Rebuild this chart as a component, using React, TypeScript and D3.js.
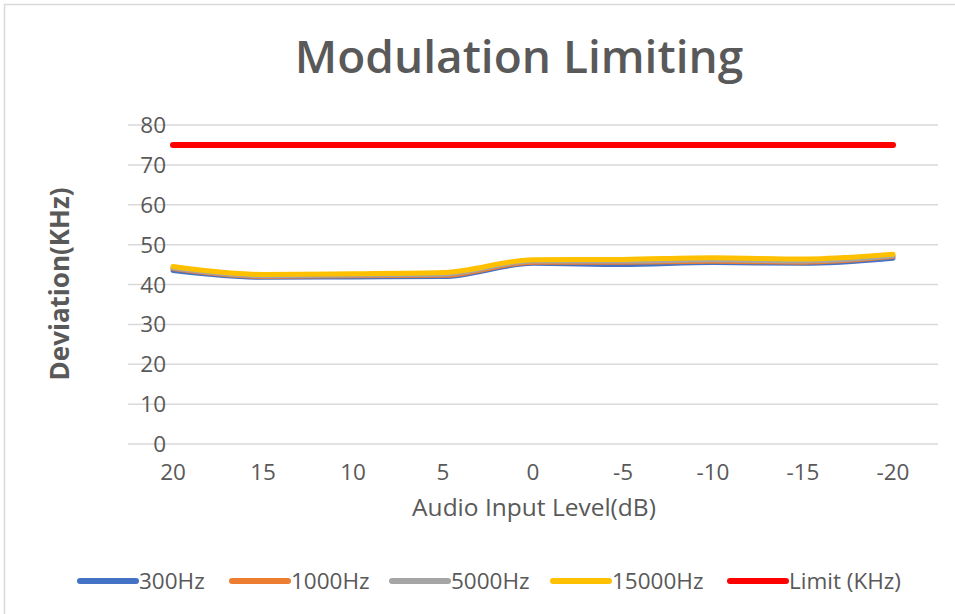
import React from "react";
import * as d3 from "d3";

const categories: string[] = ["20", "15", "10", "5", "0", "-5", "-10", "-15", "-20"];
const s300: number[] = [43.5, 41.8, 41.9, 42.0, 45.3, 45.0, 45.5, 45.3, 46.6];
const s1000: number[] = [44.0, 42.0, 42.2, 42.3, 45.6, 45.6, 45.8, 45.6, 47.0];
const s5000: number[] = [44.2, 42.2, 42.4, 42.6, 45.9, 45.9, 46.2, 45.9, 47.2];
const s15000: number[] = [44.5, 42.5, 42.7, 43.0, 46.2, 46.3, 46.7, 46.4, 47.6];
const sLimit: number[] = [75, 75, 75, 75, 75, 75, 75, 75, 75];
const yTicks: number[] = [0, 10, 20, 30, 40, 50, 60, 70, 80];

const seriesNames = ["300Hz", "1000Hz", "5000Hz", "15000Hz", "Limit (KHz)"];
const seriesValues = [s300, s1000, s5000, s15000, sLimit];
const seriesColors = ["#4472c4", "#ed7d31", "#a5a5a5", "#ffc000", "#ff0000"];

const W = 955;
const H = 614;
const FONT = "'Open Sans', 'Noto Sans', sans-serif";
const TXT = "#595959";

export default function App() {
  const x = d3.scalePoint<string>().domain(categories).range([128, 938]).padding(0.5);
  const y = d3.scaleLinear().domain([0, 80]).range([444, 125]);
  const line = d3
    .line<number>()
    .x((_, i) => x(categories[i]) as number)
    .y((d) => y(d))
    .curve(d3.curveMonotoneX);

  const legendX = [80, 232, 392, 553, 730];

  return (
    <svg
      width={W}
      height={H}
      style={{ position: "absolute", left: 0, top: 0, background: "#fff" }}
      fontFamily={FONT}
    >
      <rect x={4.5} y={4.5} width={W + 10} height={H + 10} fill="#fff" stroke="#d9d9d9" strokeWidth={1.5} />
      <text x={519} y={73} textAnchor="middle" fontSize={46} fontWeight={600} fill={TXT}>
        Modulation Limiting
      </text>
      {yTicks.map((t) => (
        <g key={t}>
          <line x1={128} x2={938} y1={y(t)} y2={y(t)} stroke="#d9d9d9" strokeWidth={1.5} />
          <text x={166} y={y(t)} dy="0.36em" textAnchor="end" fontSize={22.5} fill={TXT}>
            {t}
          </text>
        </g>
      ))}
      {categories.map((c) => (
        <text key={c} x={x(c)} y={480} textAnchor="middle" fontSize={22.5} fill={TXT}>
          {c}
        </text>
      ))}
      <text x={534} y={516} textAnchor="middle" fontSize={24.5} fill={TXT}>
        Audio Input Level(dB)
      </text>
      <text
        transform="translate(69,284) rotate(-90)"
        textAnchor="middle"
        fontSize={26}
        fontWeight={700}
        fill={TXT}
      >
        Deviation(KHz)
      </text>
      {seriesValues.map((vals, i) => (
        <path
          key={seriesNames[i]}
          d={line(vals) || ""}
          fill="none"
          stroke={seriesColors[i]}
          strokeWidth={i === 4 ? 6 : 5}
          strokeLinecap="round"
          strokeLinejoin="round"
        />
      ))}
      {seriesNames.map((n, i) => (
        <g key={n}>
          <line
            x1={legendX[i]}
            x2={legendX[i] + 56}
            y1={581}
            y2={581}
            stroke={seriesColors[i]}
            strokeWidth={6}
            strokeLinecap="round"
          />
          <text x={legendX[i] + 59} y={581} dy="0.36em" fontSize={22.5} fill={TXT}>
            {n}
          </text>
        </g>
      ))}
    </svg>
  );
}
